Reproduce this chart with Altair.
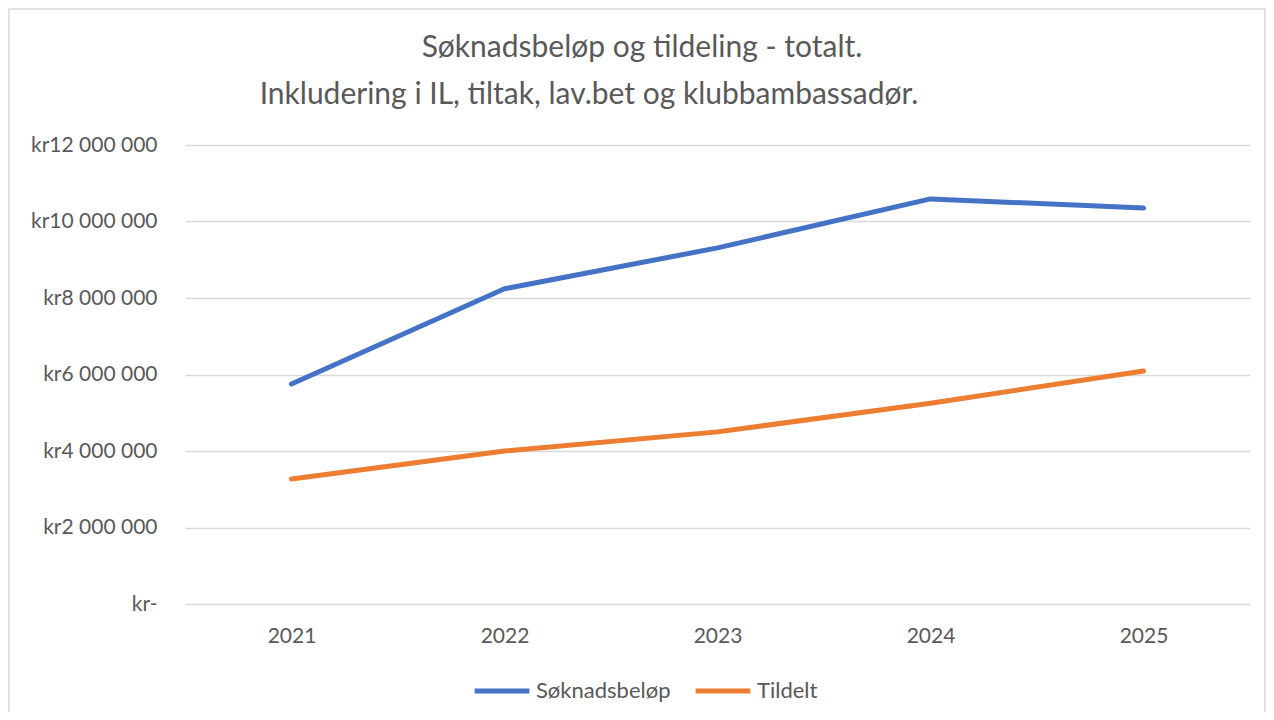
import altair as alt
import pandas as pd

years = ["2021", "2022", "2023", "2024", "2025"]
soknad = [5750000, 8240000, 9310000, 10590000, 10350000]
tildelt = [3270000, 4000000, 4500000, 5250000, 6090000]
series_names = ["Søknadsbeløp", "Tildelt"]
colors = ["#4472C4", "#ED7D31"]
title1 = "Søknadsbeløp og tildeling - totalt."
title2 = "Inkludering i IL, tiltak, lav.bet og klubbambassadør."

rows = []
for y, v in zip(years, soknad):
    rows.append({"year": y, "value": v, "series": series_names[0]})
for y, v in zip(years, tildelt):
    rows.append({"year": y, "value": v, "series": series_names[1]})
df = pd.DataFrame(rows)

W, H = 1065, 459
FONT = "Lato"

lines = alt.Chart(df).mark_line(strokeWidth=5, strokeCap="round", strokeJoin="round").encode(
    x=alt.X("year:O", scale=alt.Scale(type="point", padding=0.5),
            axis=alt.Axis(title=None, domain=False, ticks=False, labelAngle=0,
                          labelFontSize=21, labelColor="#595959", labelFont=FONT,
                          labelPadding=21, grid=False)),
    y=alt.Y("value:Q", scale=alt.Scale(domain=[0, 12000000], nice=False),
            axis=alt.Axis(title=None, domain=False, ticks=False, values=[0, 2000000, 4000000, 6000000, 8000000, 10000000, 12000000],
                          labelExpr="datum.value == 0 ? 'kr-' : 'kr' + replace(format(datum.value, ',d'), /,/g, ' ')",
                          labelFontSize=21, labelColor="#595959", labelFont=FONT,
                          labelPadding=28, gridColor="#D9D9D9", gridWidth=1.5)),
    color=alt.Color("series:N", scale=alt.Scale(domain=series_names, range=colors),
                    sort=series_names,
                    legend=alt.Legend(title=None, orient="none", direction="horizontal",
                                      legendX=287, legendY=516, symbolType="stroke",
                                      symbolSize=3000, symbolStrokeWidth=5,
                                      labelFontSize=22, labelFont=FONT, labelColor="#595959",
                                      labelOffset=4, columnPadding=14)),
)

t1 = alt.Chart(pd.DataFrame({"t": [title1]})).mark_text(
    fontSize=30, font=FONT, color="#595959", align="center", baseline="middle"
).encode(text="t:N", x=alt.value(457), y=alt.value(-97))

t2 = alt.Chart(pd.DataFrame({"t": [title2]})).mark_text(
    fontSize=30, font=FONT, color="#595959", align="center", baseline="middle"
).encode(text="t:N", x=alt.value(404), y=alt.value(-50))

border = alt.Chart(pd.DataFrame({"a": [0]})).mark_rect(
    fill=None, stroke="#D9D9D9", strokeWidth=1.5, clip=False
).encode(x=alt.value(-176), x2=alt.value(W + 15), y=alt.value(-136), y2=alt.value(H + 140))

chart = alt.layer(border, lines, t1, t2).properties(
    width=W, height=H,
    autosize=alt.AutoSizeParams(type="none"),
    padding={"left": 177, "top": 137, "right": 16, "bottom": 108},
    background="white",
).configure_view(stroke=None)

chart.save("out.html", embed_options={"renderer": "svg", "actions": False})
